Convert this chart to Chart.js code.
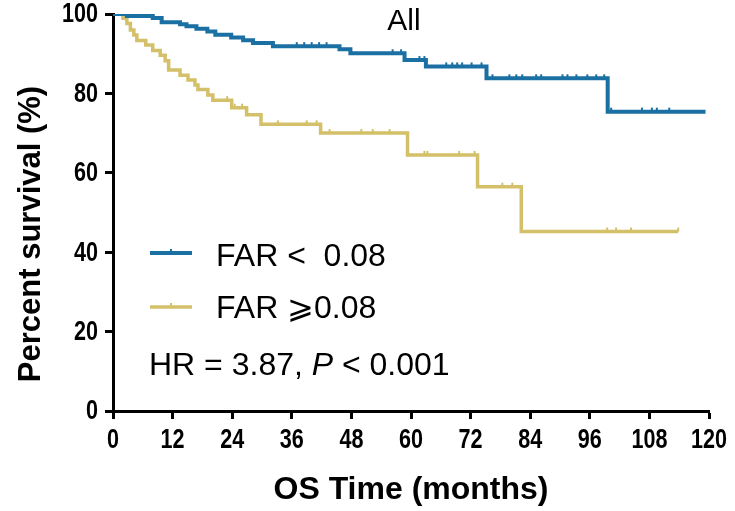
<!DOCTYPE html>
<html><head><meta charset="utf-8">
<script src="https://cdn.jsdelivr.net/npm/chart.js@4.4.1/dist/chart.umd.min.js"></script>
<style>html,body{margin:0;padding:0;background:#fff;}#wrap{width:735px;height:511px;}</style>
</head><body><div id="wrap"><canvas id="c" width="735" height="511"></canvas></div>
<script>
// ---- data ----
const xTickValues = [0, 12, 24, 36, 48, 60, 72, 84, 96, 108, 120];
const yTickValues = [0, 20, 40, 60, 80, 100];

// FAR < 0.08 (blue): times (months) at which survival drops, and survival (%)
const lowTimes = [0, 2.8, 8.0, 9.8, 13.5, 14.8, 16.8, 19.0, 20.6, 23.8, 26.2, 28.2, 32.2, 45.6, 47.8, 58.7, 63.0, 75.2, 99.6, 119.3];
const lowSurv  = [100, 99.5, 99.0, 97.9, 97.4, 96.9, 96.3, 95.6, 94.8, 94.1, 93.4, 92.7, 91.9, 91.1, 90.1, 88.4, 86.8, 83.8, 75.4, 75.4];
const lowCensor = [3.8, 37, 38.5, 40, 41.5, 43, 56.3, 58, 61.7, 62.7, 67.1, 68.3, 69.3, 70.3, 72.2, 74.2, 76.4, 79.8, 81.2, 82.4, 85.2, 86.2, 90.5, 91.5, 93.3, 95.5, 97.3, 98.9, 100.3, 106.5, 108.5, 109.5, 112];

// FAR >= 0.08 (yellow)
const highTimes = [0, 2.0, 2.8, 3.5, 4.2, 4.8, 6.6, 8.0, 9.5, 10.5, 11.2, 13.5, 15.1, 16.5, 17.1, 19.1, 20.1, 23.9, 26.9, 29.8, 41.8, 59.3, 73.4, 82.2, 113.8];
const highSurv  = [100, 98.9, 97.6, 96.0, 94.7, 93.3, 92.2, 90.8, 89.6, 88.2, 85.9, 84.6, 83.4, 82.1, 81.0, 79.6, 78.3, 76.4, 74.6, 72.2, 70.0, 64.5, 56.5, 45.2, 45.2];
const highCensor = [23, 24.5, 26, 33.2, 39, 41, 43.6, 50, 52.3, 55.7, 62.7, 63.3, 69.7, 72.8, 78.4, 80.4, 99.5, 101.3, 104.3, 113.8];

const seriesLabels = ['FAR <  0.08', 'FAR \u2A7E0.08'];
const titleText = 'All';
const statsText = ['HR = 3.87, ', 'P', ' < 0.001'];
const xTitle = 'OS Time (months)';
const yTitle = 'Percent survival (%)';

// ---- styles ----
const BLUE = '#1a6fa3';
const GOLD = '#d3c068';
const SANS = '"Liberation Sans", Arial, sans-serif';
const titleFont = {family: SANS, weight: 'bold', size: 32};

function pts(t, s) { return t.map((v, i) => ({x: v, y: s[i]})); }
function survAt(t, s, x) { let v = s[0]; for (let i = 0; i < t.length; i++) { if (t[i] <= x) v = s[i]; } return v; }
function censorPts(t, s, c) { return c.map(x => ({x: x, y: survAt(t, s, x)})); }

function condensedText(ctx, text, x, y, align, sx) {
  ctx.save();
  ctx.translate(x, y);
  ctx.scale(sx, 1);
  ctx.textAlign = align;
  ctx.fillText(text, 0, 0);
  ctx.restore();
}

const overlay = {
  id: 'overlay',
  afterDraw(chart) {
    const ctx = chart.ctx;
    const xs = chart.scales.x, ys = chart.scales.y;
    ctx.save();
    ctx.fillStyle = '#000';
    ctx.textBaseline = 'middle';
    // tick labels (condensed bold, placed by the library's scales)
    ctx.font = 'bold 27px ' + SANS;
    xTickValues.forEach(v => condensedText(ctx, String(v), xs.getPixelForValue(v), 441, 'center', 0.8));
    yTickValues.forEach(v => condensedText(ctx, String(v), 98, ys.getPixelForValue(v) + 1, 'right', 0.8));
    // title
    ctx.font = '30px ' + SANS;
    ctx.textAlign = 'center';
    ctx.fillText(titleText, 404, 22);
    // legend
    const rows = [{c: BLUE, w: 4, y: 253, ty: 257}, {c: GOLD, w: 3.5, y: 307, ty: 309}];
    ctx.textAlign = 'left';
    rows.forEach((r, i) => {
      ctx.strokeStyle = r.c; ctx.lineWidth = r.w;
      ctx.beginPath(); ctx.moveTo(150, r.y); ctx.lineTo(192, r.y); ctx.stroke();
      ctx.lineWidth = 2;
      ctx.beginPath(); ctx.moveTo(171, r.y); ctx.lineTo(171, r.y - 4); ctx.stroke();
      ctx.fillStyle = '#000';
      ctx.font = '32px "Liberation Sans", "DejaVu Sans", Arial, sans-serif';
      ctx.fillText(seriesLabels[i], 216, r.ty);
    });
    // stats
    let x = 149; const y = 366;
    ctx.font = '32px ' + SANS;
    ctx.fillText(statsText[0], x, y); x += ctx.measureText(statsText[0]).width;
    ctx.font = 'italic 32px ' + SANS;
    ctx.fillText(statsText[1], x, y); x += ctx.measureText(statsText[1]).width;
    ctx.font = '32px ' + SANS;
    ctx.fillText(statsText[2], x, y);
    // y title
    ctx.translate(31, 234);
    ctx.rotate(-Math.PI / 2);
    ctx.textAlign = 'center';
    ctx.font = 'bold 31px ' + SANS;
    ctx.fillText(yTitle, 0, 0);
    ctx.restore();
  }
};

new Chart(document.getElementById('c'), {
  type: 'line',
  data: {
    datasets: [
      {label: seriesLabels[0], data: pts(lowTimes, lowSurv), borderColor: BLUE, borderWidth: 4, stepped: true, pointRadius: 0, fill: false},
      {label: seriesLabels[1], data: pts(highTimes, highSurv), borderColor: GOLD, borderWidth: 3.5, stepped: true, pointRadius: 0, fill: false},
      {type: 'scatter', data: censorPts(lowTimes, lowSurv, lowCensor), pointStyle: 'dash', rotation: -90, pointRadius: 4, borderColor: BLUE, borderWidth: 2, showLine: false},
      {type: 'scatter', data: censorPts(highTimes, highSurv, highCensor), pointStyle: 'dash', rotation: -90, pointRadius: 4, borderColor: GOLD, borderWidth: 2, showLine: false}
    ]
  },
  options: {
    responsive: false, animation: false, devicePixelRatio: 1,
    layout: {padding: {left: 0, right: 26, top: 14, bottom: 0}},
    plugins: {legend: {display: false}, tooltip: {enabled: false}},
    scales: {
      x: {
        type: 'linear', min: 0, max: 120,
        afterBuildTicks: s => { s.ticks = xTickValues.map(v => ({value: v})); },
        afterFit: s => { s.height = 100; },
        ticks: {display: false},
        grid: {display: true, drawOnChartArea: false, drawTicks: true, tickLength: 8, tickWidth: 3, tickColor: '#000'},
        border: {display: true, color: '#000', width: 3},
        title: {display: true, text: xTitle, font: titleFont, color: '#000', padding: {top: 0, bottom: 2}}
      },
      y: {
        type: 'linear', min: 0, max: 100,
        afterBuildTicks: s => { s.ticks = yTickValues.map(v => ({value: v})); },
        afterFit: s => { s.width = 113; },
        ticks: {display: false},
        grid: {display: true, drawOnChartArea: false, drawTicks: true, tickLength: 8, tickWidth: 3, tickColor: '#000'},
        border: {display: true, color: '#000', width: 3}
      }
    }
  },
  plugins: [overlay]
});
</script></body></html>
